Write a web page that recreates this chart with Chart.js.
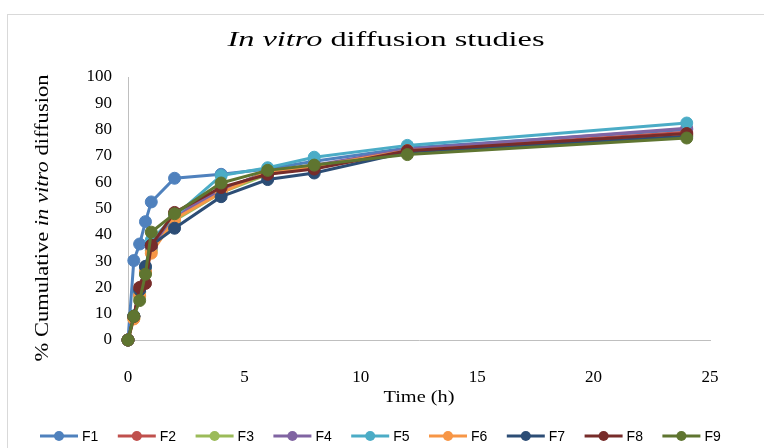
<!DOCTYPE html>
<html>
<head>
<meta charset="utf-8">
<script src="https://cdn.jsdelivr.net/npm/chart.js@4.4.1/dist/chart.umd.min.js"></script>
<style>
  html, body { margin:0; padding:0; background:#fff; overflow:hidden; }
  #wrap { position:relative; width:764px; height:448px; }
</style>
</head>
<body>
<div id="wrap"><canvas id="js-diffusion-chart" width="764" height="448"></canvas></div>
<script>
  /* ━━━━  DATA  ━━━━ */
  const TIME_H = [0, 0.25, 0.5, 0.75, 1, 2, 4, 6, 8, 12, 24];
  const F1 = [0, 30.2, 36.5, 45.0, 52.5, 61.5, 63.0, 65.0, 68.0, 73.0, 80.0];
  const F2 = [0,  8.8, 18.5, 27.0, 35.0, 48.0, 57.5, 63.5, 66.0, 72.0, 79.0];
  const F3 = [0,  8.2, 16.5, 25.5, 34.0, 45.5, 56.0, 63.0, 66.0, 71.5, 78.0];
  const F4 = [0,  9.0, 17.5, 26.5, 35.5, 47.0, 57.0, 64.0, 66.5, 72.5, 80.5];
  const F5 = [0,  9.2, 18.0, 27.5, 38.0, 47.0, 62.5, 65.5, 69.5, 74.0, 82.5];
  const F6 = [0,  8.0, 17.0, 26.0, 33.0, 46.0, 56.0, 64.0, 66.0, 72.0, 78.0];
  const F7 = [0,  9.0, 19.0, 28.0, 36.0, 42.5, 54.5, 61.0, 63.5, 71.5, 77.5];
  const F8 = [0,  9.0, 20.0, 21.5, 36.0, 48.5, 58.0, 63.0, 65.0, 72.0, 78.5];
  const F9 = [0,  9.0, 15.0, 25.0, 41.0, 48.0, 59.7, 64.5, 66.5, 70.5, 76.8];

  const SERIES_NAMES  = ['F1','F2','F3','F4','F5','F6','F7','F8','F9'];
  const SERIES_VALUES = [F1, F2, F3, F4, F5, F6, F7, F8, F9];
  const COLORS = ['#4F81BD','#C0504D','#9BBB59','#8064A2','#4BACC6','#F79646','#2C4D75','#772C2A','#5F7530'];

  const TITLE_RUNS   = [['In vitro', true], [' diffusion studies', false]];
  const Y_TITLE_RUNS = [['% Cumulative ', false], ['in vitro', true], [' diffusion', false]];
  const X_TITLE_RUNS = [['Time (h)', false]];

  /* ━━━━  UTILS  ━━━━ */
  const SERIF = "'Liberation Serif', 'Times New Roman', serif";
  const SANS  = "'Liberation Sans', Arial, sans-serif";

  // draw mixed italic / upright text, stretched along its length to a target width
  function drawRuns(ctx, runs, cx, cy, size, targetW, vertical) {
    const fontOf = it => (it ? 'italic ' : '') + size + 'px ' + SERIF;
    let w = 0;
    runs.forEach(([t, it]) => { ctx.font = fontOf(it); w += ctx.measureText(t).width; });
    ctx.save();
    ctx.translate(cx, cy);
    if (vertical) ctx.rotate(-Math.PI / 2);
    ctx.scale(targetW / w, 1);
    ctx.fillStyle = '#000';
    ctx.textBaseline = 'middle';
    ctx.textAlign = 'left';
    let x = -w / 2;
    runs.forEach(([t, it]) => {
      ctx.font = fontOf(it);
      ctx.fillText(t, x, 0);
      x += ctx.measureText(t).width;
    });
    ctx.restore();
  }

  function drawLegend(chart) {
    const ctx = chart.ctx;
    const y = 436, x0 = 40, step = 77.8;
    chart.data.datasets.forEach((ds, i) => {
      const x = x0 + i * step;
      ctx.save();
      ctx.strokeStyle = ds.borderColor;
      ctx.fillStyle = ds.borderColor;
      ctx.lineWidth = 3;
      ctx.beginPath(); ctx.moveTo(x, y); ctx.lineTo(x + 38, y); ctx.stroke();
      ctx.beginPath(); ctx.arc(x + 19, y, 5, 0, Math.PI * 2); ctx.fill();
      ctx.fillStyle = '#000';
      ctx.font = '14px ' + SANS;
      ctx.textBaseline = 'middle';
      ctx.fillText(ds.label, x + 42, y + 1);
      ctx.restore();
    });
  }

  const decorPlugin = {
    id: 'decor',
    beforeDraw(chart) {
      const ctx = chart.ctx;
      ctx.save();
      ctx.strokeStyle = '#d9d9d9';
      ctx.lineWidth = 1;
      ctx.strokeRect(7.5, 14.5, 900, 600);
      ctx.restore();
    },
    afterDraw(chart) {
      const ctx = chart.ctx;
      drawRuns(ctx, TITLE_RUNS, 386, 40, 22, 317, false);
      drawRuns(ctx, Y_TITLE_RUNS, 43, 218, 18, 287, true);
      drawRuns(ctx, X_TITLE_RUNS, 419, 398, 17, 71, false);
      drawLegend(chart);
    }
  };

  /* ━━━━  CHART  ━━━━ */
  const datasets = SERIES_NAMES.map((name, i) => ({
    label: name,
    data: TIME_H.map((t, k) => ({ x: t, y: SERIES_VALUES[i][k] })),
    borderColor: COLORS[i],
    backgroundColor: COLORS[i],
    pointBackgroundColor: COLORS[i],
    pointBorderColor: COLORS[i],
    pointBorderWidth: 1,
    pointRadius: 6,
    borderWidth: 3,
    tension: 0,
    clip: false,
    order: SERIES_NAMES.length - 1 - i
  }));

  const tickFont = { family: SERIF, size: 17 };

  new Chart(document.getElementById('js-diffusion-chart').getContext('2d'), {
    type: 'line',
    data: { datasets },
    options: {
      responsive: false,
      animation: false,
      layout: { padding: { top: 77, right: 54, left: 0, bottom: 0 } },
      plugins: { legend: { display: false }, tooltip: { enabled: false }, title: { display: false } },
      scales: {
        x: {
          type: 'linear', min: 0, max: 25,
          grid: { display: false, drawTicks: false },
          border: { display: true, color: '#bfbfbf', width: 1 },
          ticks: { stepSize: 5, color: '#000', font: tickFont, padding: 27, maxRotation: 0 },
          afterFit: s => { s.height = 108; }
        },
        y: {
          min: 0, max: 100,
          grid: { display: false, drawTicks: false },
          border: { display: true, color: '#bfbfbf', width: 1 },
          ticks: { stepSize: 10, color: '#000', font: tickFont, padding: 16 },
          afterFit: s => { s.width = 128; }
        }
      }
    },
    plugins: [decorPlugin]
  });
</script>
</body>
</html>
